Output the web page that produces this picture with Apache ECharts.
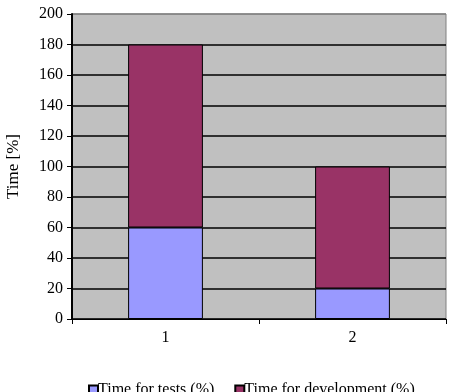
<!DOCTYPE html>
<html lang="en">
<head>
    <meta charset="UTF-8">
    <script src="https://cdn.jsdelivr.net/npm/echarts@6.0.0/dist/echarts.min.js"></script>
    <title>Time</title>
    <style>
        html, body { margin: 0; padding: 0; background: #fff; }
    </style>
</head>
<body>
<div id="tu" style="width:450px;height:392px"></div>
<script type="text/javascript">
    var categories = ['1', '2'];
    var testsTime = [60, 20];
    var devTime = [120, 80];
    var yTicks = [0, 200, 20];   // min, max, interval

    var thisChart = echarts.init(document.getElementById('tu'));
    var font = '"Liberation Serif", "Times New Roman", serif';
    // grid lines are black, the top one (at 200) is the gray frame
    var gridColors = ['#000', '#000', '#000', '#000', '#000', '#000', '#000', '#000', '#000', '#000', '#808080'];
    var option = {
        animation: false,
        textStyle: { fontFamily: font },
        grid: {
            left: 72, right: 4, top: 14, bottom: 73,
            outerBoundsMode: 'none',
            containLabel: false,
            show: true, backgroundColor: '#c0c0c0', borderColor: '#808080', borderWidth: 1
        },
        legend: {
            data: ['Time for tests (%)', 'Time for development (%)'],
            bottom: -11,
            left: 83,
            itemWidth: 9, itemHeight: 9, itemGap: 20,
            icon: 'rect',
            textStyle: { fontFamily: font, fontSize: 16, color: '#000', padding: [0, 0, 0, -5] }
        },
        xAxis: {
            type: 'category',
            data: categories,
            axisLine: { lineStyle: { color: '#000', width: 1 } },
            axisTick: { show: true, length: 5, lineStyle: { color: '#000' } },
            axisLabel: { color: '#000', fontFamily: font, fontSize: 16, margin: 11 }
        },
        yAxis: {
            type: 'value',
            min: yTicks[0], max: yTicks[1], interval: yTicks[2],
            name: 'Time [%]',
            nameLocation: 'middle',
            nameGap: 50,
            nameTextStyle: { color: '#000', fontFamily: font, fontSize: 17 },
            axisLine: { show: true, lineStyle: { color: '#000', width: 2 } },
            axisTick: { show: true, length: 5, lineStyle: { color: '#000' } },
            axisLabel: { color: '#000', fontFamily: font, fontSize: 16, margin: 9 },
            splitLine: { show: true, lineStyle: { color: gridColors, width: 1.5 } }
        },
        series: [
            {
                name: 'Time for tests (%)',
                type: 'bar',
                stack: 'total',
                barWidth: '40%',
                data: testsTime,
                itemStyle: { color: '#9999ff', borderColor: '#000', borderWidth: 1 }
            },
            {
                name: 'Time for development (%)',
                type: 'bar',
                stack: 'total',
                data: devTime,
                itemStyle: { color: '#993366', borderColor: '#000', borderWidth: 1 }
            }
        ]
    };
    thisChart.setOption(option);
</script>
</body>
</html>
